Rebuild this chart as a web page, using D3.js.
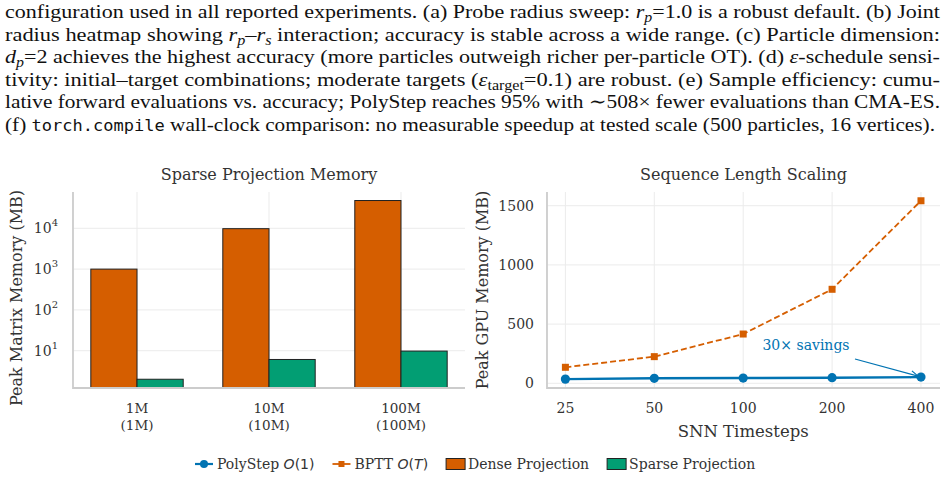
<!DOCTYPE html>
<html>
<head>
<meta charset="utf-8">
<script src="https://cdn.jsdelivr.net/npm/d3@7"></script>
<style>
  html, body { margin: 0; padding: 0; background: #fff; }
  svg { display: block; }
</style>
</head>
<body>
<script>
// caption lines: [text, style] n=normal i=italic s=subscript si=italic subscript m=mono
const captionLines = [
  [['configuration used in all reported experiments. (a) Probe radius sweep: ', 'n'], ['r', 'i'], ['p', 'si'], ['=1.0 is a robust default. (b) Joint', 'n']],
  [['radius heatmap showing ', 'n'], ['r', 'i'], ['p', 'si'], ['–', 'n'], ['r', 'i'], ['s', 'si'], [' interaction; accuracy is stable across a wide range. (c) Particle dimension:', 'n']],
  [['d', 'i'], ['p', 'si'], ['=2 achieves the highest accuracy (more particles outweigh richer per-particle OT). (d) ', 'n'], ['ε', 'i'], ['-schedule sensi-', 'n']],
  [['tivity: initial–target combinations; moderate targets (', 'n'], ['ε', 'i'], ['target', 's'], ['=0.1) are robust. (e) Sample efficiency: cumu-', 'n']],
  [['lative forward evaluations vs. accuracy; PolyStep reaches 95% with ∼508× fewer evaluations than CMA-ES.', 'n']],
  [['(f) ', 'n'], ['torch.compile', 'm'], [' wall-clock comparison: no measurable speedup at tested scale (500 particles, 16 vertices).', 'n']]
]
const captionEnds = [940, 940, 940, 940, 940, 935]

// panel (a): sparse projection memory
const sizes = ['1M', '10M', '100M']
const sizeSub = ['(1M)', '(10M)', '(100M)']
const denseMB = [1000, 9800, 48000]
const sparseMB = [2.0, 6.1, 9.8]
const logTicks = [10, 100, 1000, 10000]

// panel (b): sequence length scaling
const timesteps = [25, 50, 100, 200, 400]
const polystepMB = [35, 42, 44, 47, 52]
const bpttMB = [135, 225, 416, 794, 1542]
const memTicks = [0, 500, 1000, 1500]

const BLUE = '#0173b2', ORANGE = '#d55e00', GREEN = '#029e73'
const INK = '#333', SPINE = '#cccccc', GRID = '#ebebeb'
const SERIF = '"DejaVu Serif", serif'
const CAPFONT = "'Liberation Serif', 'DejaVu Serif', serif"
const MONO = "'DejaVu Sans Mono', 'Liberation Mono', monospace"

const W = 947, H = 479
const svg = d3.select('body').append('svg').attr('width', W).attr('height', H)

// ---- caption (justified; glyphs widened a bit, like Computer Modern) ----
const capSize = 19.5
const cap = svg.append('g').attr('fill', '#111')
captionLines.forEach((segs, li) => {
  const t = cap.append('text')
    .attr('x', 5).attr('y', 18 + li * 22.6)
    .style('font-family', CAPFONT).style('font-size', capSize + 'px')
  let shifted = false
  segs.forEach(([str, st]) => {
    const sp = t.append('tspan').text(str).style('font-family', st === 'm' ? MONO : CAPFONT)
    const sub = st === 's' || st === 'si'
    if (sub && !shifted) { sp.attr('dy', 4); shifted = true }
    if (!sub && shifted) { sp.attr('dy', -4); shifted = false }
    if (sub) sp.style('font-size', (capSize * 0.72) + 'px')
    if (st === 'i' || st === 'si') sp.style('font-style', 'italic')
    if (st === 'm') sp.style('font-size', (capSize * 0.8) + 'px')
  })
  t.attr('textLength', captionEnds[li] - 5).attr('lengthAdjust', 'spacingAndGlyphs')
})

// ---- panel (a) ----
const a = { l: 73, r: 465, t: 192, b: 388 }
const xa = d3.scaleLinear().domain([-0.485, 2.485]).range([a.l, a.r])
const ya = d3.scaleLog().domain([1.22, 77600]).range([a.b, a.t])
const ga = svg.append('g')

ga.selectAll('line.hg').data(logTicks).join('line')
  .attr('x1', a.l).attr('x2', a.r).attr('y1', d => ya(d)).attr('y2', d => ya(d))
  .attr('stroke', GRID).attr('stroke-width', 1)
ga.selectAll('line.vg').data(sizes).join('line')
  .attr('x1', (d, i) => xa(i)).attr('x2', (d, i) => xa(i)).attr('y1', a.t).attr('y2', a.b)
  .attr('stroke', GRID).attr('stroke-width', 1)

const bw = 0.35
ga.selectAll('rect.dense').data(denseMB).join('rect')
  .attr('x', (d, i) => xa(i - bw)).attr('width', xa(bw) - xa(0))
  .attr('y', d => ya(d)).attr('height', d => a.b - ya(d))
  .attr('fill', ORANGE).attr('stroke', '#222').attr('stroke-width', 1)
ga.selectAll('rect.sparse').data(sparseMB).join('rect')
  .attr('x', (d, i) => xa(i)).attr('width', xa(bw) - xa(0))
  .attr('y', d => ya(d)).attr('height', d => a.b - ya(d))
  .attr('fill', GREEN).attr('stroke', '#222').attr('stroke-width', 1)

ga.append('path').attr('d', `M${a.l},${a.t}V${a.b}H${a.r}`).attr('fill', 'none').attr('stroke', SPINE).attr('stroke-width', 1.8)

const yl = ga.selectAll('text.yt').data(logTicks).join('text')
  .attr('x', a.l - 15).attr('y', d => ya(d) + 5)
  .attr('text-anchor', 'end').attr('font-family', SERIF).attr('font-size', 14).attr('fill', INK)
yl.append('tspan').text('10')
yl.append('tspan').attr('dy', -7).attr('font-size', 10).text(d => Math.round(Math.log10(d)))

ga.selectAll('text.xt').data(sizes).join('text')
  .attr('x', (d, i) => xa(i)).attr('y', 413)
  .attr('text-anchor', 'middle').attr('font-family', SERIF).attr('font-size', 13.5).attr('fill', INK)
  .text(d => d)
ga.selectAll('text.xt2').data(sizeSub).join('text')
  .attr('x', (d, i) => xa(i)).attr('y', 430)
  .attr('text-anchor', 'middle').attr('font-family', SERIF).attr('font-size', 13.5).attr('fill', INK)
  .text(d => d)

ga.append('text').attr('x', (a.l + a.r) / 2).attr('y', 180)
  .attr('text-anchor', 'middle').attr('font-family', SERIF).attr('font-size', 16).attr('fill', INK)
  .text('Sparse Projection Memory')
ga.append('text').attr('transform', `translate(22,${(a.t + a.b) / 2 + 8}) rotate(-90)`)
  .attr('text-anchor', 'middle').attr('font-family', SERIF).attr('font-size', 16).attr('fill', INK)
  .text('Peak Matrix Memory (MB)')

// ---- panel (b) ----
const b = { l: 547, r: 940, t: 192, b: 388 }
const xb = d3.scaleLog().base(2).domain([25 / Math.pow(2, 0.207), 400 * Math.pow(2, 0.214)]).range([b.l, b.r])
const yb = d3.scaleLinear().domain([-40, 1616]).range([b.b, b.t])
const gb = svg.append('g')

gb.selectAll('line.hg').data(memTicks).join('line')
  .attr('x1', b.l).attr('x2', b.r).attr('y1', d => yb(d)).attr('y2', d => yb(d))
  .attr('stroke', GRID).attr('stroke-width', 1)
gb.selectAll('line.vg').data(timesteps).join('line')
  .attr('x1', d => xb(d)).attr('x2', d => xb(d)).attr('y1', b.t).attr('y2', b.b)
  .attr('stroke', GRID).attr('stroke-width', 1)
gb.append('path').attr('d', `M${b.l},${b.t}V${b.b}H${b.r}`).attr('fill', 'none').attr('stroke', SPINE).attr('stroke-width', 1.8)

const lineB = d3.line().x((d, i) => xb(timesteps[i])).y(d => yb(d))
gb.append('path').datum(bpttMB).attr('d', lineB)
  .attr('fill', 'none').attr('stroke', ORANGE).attr('stroke-width', 1.8).attr('stroke-dasharray', '6,3')
gb.selectAll('rect.sq').data(bpttMB).join('rect')
  .attr('x', (d, i) => xb(timesteps[i]) - 3.5).attr('y', d => yb(d) - 3.5)
  .attr('width', 7).attr('height', 7).attr('fill', ORANGE)
gb.append('path').datum(polystepMB).attr('d', lineB)
  .attr('fill', 'none').attr('stroke', BLUE).attr('stroke-width', 2.4)
gb.selectAll('circle.pt').data(polystepMB).join('circle')
  .attr('cx', (d, i) => xb(timesteps[i])).attr('cy', d => yb(d)).attr('r', 4.6).attr('fill', BLUE)

gb.selectAll('text.yt').data(memTicks).join('text')
  .attr('x', b.l - 13).attr('y', d => yb(d) + 5)
  .attr('text-anchor', 'end').attr('font-family', SERIF).attr('font-size', 14).attr('fill', INK)
  .text(d => d)
gb.selectAll('text.xt').data(timesteps).join('text')
  .attr('x', d => xb(d)).attr('y', 413)
  .attr('text-anchor', 'middle').attr('font-family', SERIF).attr('font-size', 14).attr('fill', INK)
  .text(d => d)

gb.append('text').attr('x', (b.l + b.r) / 2).attr('y', 180)
  .attr('text-anchor', 'middle').attr('font-family', SERIF).attr('font-size', 16).attr('fill', INK)
  .text('Sequence Length Scaling')
gb.append('text').attr('x', xb(100)).attr('y', 437)
  .attr('text-anchor', 'middle').attr('font-family', SERIF).attr('font-size', 16.5).attr('fill', INK)
  .text('SNN Timesteps')
gb.append('text').attr('transform', `translate(488,${(b.t + b.b) / 2}) rotate(-90)`)
  .attr('text-anchor', 'middle').attr('font-family', SERIF).attr('font-size', 16).attr('fill', INK)
  .text('Peak GPU Memory (MB)')

// annotation
const tipX = xb(400) - 3, tipY = yb(polystepMB[4]) - 1
const fromX = 855, fromY = 359
gb.append('line').attr('x1', fromX).attr('y1', fromY).attr('x2', tipX).attr('y2', tipY)
  .attr('stroke', BLUE).attr('stroke-width', 1.2)
const ang = Math.atan2(tipY - fromY, tipX - fromX)
const hl = 8
gb.append('path')
  .attr('d', `M${tipX - hl * Math.cos(ang - 0.45)},${tipY - hl * Math.sin(ang - 0.45)}L${tipX},${tipY}L${tipX - hl * Math.cos(ang + 0.45)},${tipY - hl * Math.sin(ang + 0.45)}`)
  .attr('fill', 'none').attr('stroke', BLUE).attr('stroke-width', 1.2)
gb.append('text').attr('x', 806).attr('y', 350)
  .attr('text-anchor', 'middle').attr('font-family', SERIF).attr('font-size', 14).attr('fill', BLUE)
  .text('30× savings')

// ---- legend ----
const legendItems = [
  { kind: 'circle', color: BLUE, parts: [['PolyStep ', 'n'], ['O', 'mi'], ['(1)', 'm']] },
  { kind: 'square', color: ORANGE, parts: [['BPTT ', 'n'], ['O', 'mi'], ['(', 'm'], ['T', 'mi'], [')', 'm']] },
  { kind: 'rect', color: ORANGE, parts: [['Dense Projection', 'n']] },
  { kind: 'rect', color: GREEN, parts: [['Sparse Projection', 'n']] }
]
const lg = svg.append('g')
let lx = 195
const ly = 464
legendItems.forEach(it => {
  const g = lg.append('g')
  if (it.kind === 'rect') {
    g.append('rect').attr('x', lx).attr('y', ly - 5.5).attr('width', 19).attr('height', 11)
      .attr('fill', it.color).attr('stroke', '#222').attr('stroke-width', 1)
  } else {
    g.append('line').attr('x1', lx).attr('x2', lx + 18).attr('y1', ly).attr('y2', ly)
      .attr('stroke', it.color).attr('stroke-width', it.kind === 'circle' ? 2.2 : 1.8)
    if (it.kind === 'circle') g.append('circle').attr('cx', lx + 9).attr('cy', ly).attr('r', 4).attr('fill', it.color)
    else g.append('rect').attr('x', lx + 6).attr('y', ly - 3).attr('width', 6).attr('height', 6).attr('fill', it.color)
  }
  const t = g.append('text').attr('x', lx + 22).attr('y', ly + 5)
    .attr('font-family', SERIF).attr('font-size', 14).attr('fill', INK)
  it.parts.forEach(([s, st]) => {
    const sp = t.append('tspan').text(s)
    if (st === 'm' || st === 'mi') sp.attr('font-family', '"DejaVu Sans", sans-serif')
    if (st === 'mi') sp.attr('font-style', 'italic')
  })
  lx += 22 + t.node().getComputedTextLength() + 18
})
</script>
</body>
</html>
